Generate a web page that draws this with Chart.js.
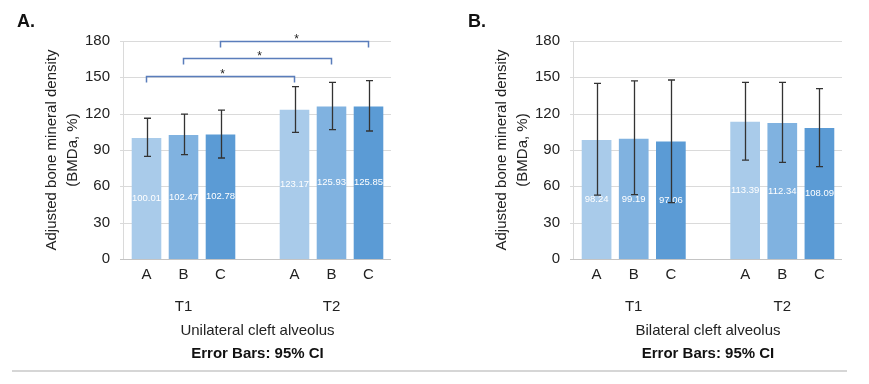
<!DOCTYPE html>
<html>
<head>
<meta charset="utf-8">
<script src="https://cdn.jsdelivr.net/npm/chart.js@4.4.1/dist/chart.umd.min.js"></script>
<style>
  html, body { margin: 0; padding: 0; background: #fff; }
  #wrap { position: relative; width: 869px; height: 384px; overflow: hidden; }
  #panelA { position: absolute; left: 0; top: 0; }
  #panelB { position: absolute; left: 450px; top: 0; }
  #rule { position: absolute; left: 12px; top: 370px; width: 835px; height: 2px; background: #d6d6d6; }
</style>
</head>
<body>
<div id="wrap">
  <canvas id="panelA" width="450" height="384"></canvas>
  <canvas id="panelB" width="419" height="384"></canvas>
  <div id="rule"></div>
</div>
<script>
// categories along the x axis, with an empty slot between T1 and T2
const categories = ["A", "B", "C", "", "A", "B", "C"]
const timepoints = ["", "T1", "", "", "", "T2", ""]
const yTicks = [0, 30, 60, 90, 120, 150, 180]

// A. unilateral cleft alveolus (mean and 95% CI)
const unilateralMeans = [100.01, 102.47, 102.78, null, 123.17, 125.93, 125.85]
const unilateralLow = [84.8, 86.1, 83.4, null, 104.6, 106.8, 105.7]
const unilateralHigh = [116.2, 119.7, 123.0, null, 142.3, 145.9, 147.3]

// B. bilateral cleft alveolus
const bilateralMeans = [98.24, 99.19, 97.06, null, 113.39, 112.34, 108.09]
const bilateralLow = [52.8, 53.1, 46.5, null, 81.7, 79.8, 76.2]
const bilateralHigh = [145.0, 147.0, 147.8, null, 145.9, 145.9, 140.6]

// significance brackets in panel A: bar index to bar index, at a y value
const unilateralBrackets = [
  { from: 0, to: 4, level: 151 },
  { from: 1, to: 5, level: 166 },
  { from: 2, to: 6, level: 180 },
]

const barColors = ["#a9cbea", "#80b2e0", "#5b9bd5", "rgba(0,0,0,0)", "#a9cbea", "#80b2e0", "#5b9bd5"]
const FONT = "'Liberation Sans', Arial, Helvetica, sans-serif"
const TEXT = "#222"

const panelDecor = {
  id: "panelDecor",
  beforeDatasetsDraw(chart) {
    const { ctx, chartArea, scales } = chart
    const y = scales.y
    ctx.save()
    ctx.lineWidth = 1
    y.ticks.forEach((t) => {
      const py = Math.round(y.getPixelForValue(t.value)) + 0.5
      ctx.strokeStyle = t.value === 0 ? "#c4c4c4" : "#dadada"
      ctx.beginPath()
      ctx.moveTo(chartArea.left - 8, py)
      ctx.lineTo(chartArea.right + 4, py)
      ctx.stroke()
    })
    const ax = Math.round(chartArea.left - 5) + 0.5
    ctx.strokeStyle = "#dadada"
    ctx.beginPath()
    ctx.moveTo(ax, y.getPixelForValue(y.max))
    ctx.lineTo(ax, y.getPixelForValue(0))
    ctx.stroke()
    ctx.restore()
  },
  afterDatasetsDraw(chart, args, opts) {
    const { ctx } = chart
    const y = chart.scales.y
    const meta = chart.getDatasetMeta(0)
    const values = chart.data.datasets[0].data
    ctx.save()

    // value labels in the middle of each bar
    ctx.fillStyle = "#ffffff"
    ctx.font = "9.5px " + FONT
    ctx.textAlign = "center"
    ctx.textBaseline = "middle"
    values.forEach((v, i) => {
      if (v == null) return
      const bar = meta.data[i]
      ctx.fillText(v.toFixed(2), bar.x, (bar.y + bar.base) / 2)
    })

    // error bars
    ctx.strokeStyle = "#333"
    ctx.lineWidth = 1.3
    opts.low.forEach((lo, i) => {
      if (lo == null) return
      const bar = meta.data[i]
      const x = Math.round(bar.x) + 0.5
      const yLo = y.getPixelForValue(lo)
      const yHi = y.getPixelForValue(opts.high[i])
      ctx.beginPath()
      ctx.moveTo(x, yLo)
      ctx.lineTo(x, yHi)
      ctx.moveTo(x - 3.5, yLo)
      ctx.lineTo(x + 3.5, yLo)
      ctx.moveTo(x - 3.5, yHi)
      ctx.lineTo(x + 3.5, yHi)
      ctx.stroke()
    })

    // significance brackets
    ctx.strokeStyle = "#5a7dbb"
    ctx.lineWidth = 1.5
    ctx.fillStyle = "#222"
    ctx.font = "12px " + FONT
    ctx.textBaseline = "alphabetic"
    ;(opts.brackets || []).forEach((b) => {
      const x1 = meta.data[b.from].x
      const x2 = meta.data[b.to].x
      const py = Math.round(y.getPixelForValue(b.level)) + 0.5
      ctx.beginPath()
      ctx.moveTo(x1, py + 6)
      ctx.lineTo(x1, py)
      ctx.lineTo(x2, py)
      ctx.lineTo(x2, py + 6)
      ctx.stroke()
      ctx.fillText("*", (x1 + x2) / 2 + 2, py + 1)
    })
    ctx.restore()
  },
}

function createPanelChart(canvasId, panel) {
  const labels = categories.map((c, i) => (timepoints[i] ? [c, timepoints[i]] : c))

  const config = {
    type: "bar",
    data: {
      labels: labels,
      datasets: [
        {
          data: panel.means,
          backgroundColor: barColors,
          borderWidth: 0,
          barPercentage: 0.8,
          categoryPercentage: 1.0,
        },
      ],
    },
    options: {
      responsive: false,
      animation: false,
      layout: {
        padding: { left: panel.padLeft, right: panel.padRight, top: 0, bottom: 0 },
      },
      plugins: {
        legend: { display: false },
        tooltip: { enabled: false },
        subtitle: {
          display: true,
          text: panel.letter,
          position: "top",
          align: "start",
          color: "#111",
          font: { family: FONT, size: 18, weight: "bold", lineHeight: 1.2 },
          padding: { top: 11, bottom: 8.4 },
        },
        title: {
          display: true,
          text: "Error Bars: 95% CI",
          position: "bottom",
          fullSize: false,
          color: "#111",
          font: { family: FONT, size: 15, weight: "bold", lineHeight: 1.2 },
          padding: { top: 7, bottom: 21 },
        },
        panelDecor: {
          low: panel.low,
          high: panel.high,
          brackets: panel.brackets,
        },
      },
      scales: {
        x: {
          grid: { display: false, drawTicks: false },
          border: { display: false },
          ticks: {
            color: TEXT,
            padding: 0,
            maxRotation: 0,
            autoSkip: false,
            font: { family: FONT, size: 15, lineHeight: "32px" },
          },
          title: {
            display: true,
            text: panel.xTitle,
            color: TEXT,
            padding: 0,
            font: { family: FONT, size: 15, lineHeight: 1.0 },
          },
        },
        y: {
          min: 0,
          max: yTicks[yTicks.length - 1],
          afterBuildTicks: (scale) => {
            scale.ticks = yTicks.map((v) => ({ value: v }))
          },
          afterFit: (scale) => {
            scale.width = panel.axisWidth
          },
          grid: { display: false, drawTicks: false },
          border: { display: false },
          ticks: {
            color: TEXT,
            padding: 18,
            font: { family: FONT, size: 15 },
          },
          title: {
            display: true,
            text: ["Adjusted bone mineral density", "(BMDa, %)"],
            color: TEXT,
            padding: { top: panel.titlePad, bottom: 0 },
            font: { family: FONT, size: 15, lineHeight: "21px" },
          },
        },
      },
    },
    plugins: [panelDecor],
  }

  const ctx = document.getElementById(canvasId)
  return new Chart(ctx, config)
}

document.addEventListener("DOMContentLoaded", () => {
  createPanelChart("panelA", {
    letter: "A.",
    xTitle: "Unilateral cleft alveolus",
    means: unilateralMeans,
    low: unilateralLow,
    high: unilateralHigh,
    brackets: unilateralBrackets,
    padLeft: 17,
    padRight: 63,
    axisWidth: 111,
    titlePad: 24,
  })
  createPanelChart("panelB", {
    letter: "B.",
    xTitle: "Bilateral cleft alveolus",
    means: bilateralMeans,
    low: bilateralLow,
    high: bilateralHigh,
    brackets: [],
    padLeft: 18,
    padRight: 31,
    axisWidth: 110,
    titlePad: 23,
  })
})
</script>
</body>
</html>
